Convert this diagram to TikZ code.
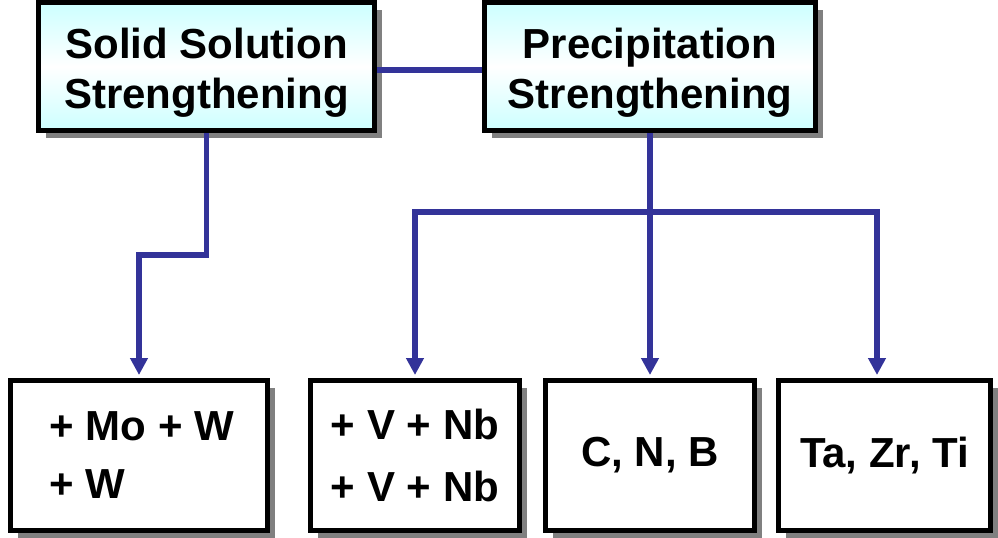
\documentclass[tikz,border=0pt]{standalone}
\usepackage{fontspec}
\setmainfont{Liberation Sans}
\usetikzlibrary{arrows.meta,shadows}
\definecolor{linkblue}{HTML}{333399}
\definecolor{boxcyan}{HTML}{CCFFFF}
\newcommand{\toplift}{\rule{0pt}{21pt}}
\begin{document}
\begin{tikzpicture}[x=0.5pt, y=-0.5pt,
    box/.style={draw, line width=2.5pt, inner sep=0pt,
      drop shadow={shadow xshift=3.5pt, shadow yshift=-3.5pt, fill=black!50, opacity=1}},
    topbox/.style={box, align=center, minimum height=64pt,
      top color=boxcyan, bottom color=boxcyan, middle color=white,
      font=\bfseries\fontsize{21}{25}\selectfont},
    leafbox/.style={box, fill=white, align=left, minimum height=75pt, minimum width=104.5pt,
      font=\bfseries\fontsize{21}{29}\selectfont},
    link/.style={linkblue, line width=2.6pt},
    arrow/.style={link, -{Triangle[length=8.5pt, width=8.5pt]}, shorten >=1.5pt}]
  \useasboundingbox (0, 0) rectangle (998, 537);
  \node[topbox, minimum width=168pt] (ss) at (206.5, 66.5) {\toplift Solid Solution\\Strengthening};
  \node[topbox, minimum width=165.5pt] (ps) at (650, 66.5) {\toplift Precipitation\\Strengthening};
  \node[leafbox, minimum width=128.5pt] (b1) at (139, 455.5) {\hspace{3pt}+ Mo + W\\\hspace{3pt}+ W};
  \node[leafbox] (b2) at (415, 455.5) {+ V + Nb\\[2pt]+ V + Nb};
  \node[leafbox] (b3) at (650, 455.5) {C, N, B};
  \node[leafbox, minimum width=106pt] (b4) at (884.5, 455.5) {Ta, Zr, Ti};
  \coordinate (kink) at (206.5, 255);
  \coordinate (fork) at (650, 212);
  \draw[link] ([yshift=-1.75pt]ss.east) -- ([yshift=-1.75pt]ps.west);
  \draw[arrow] (ss.south) -- (kink) -| (b1.north);
  \draw[arrow] (ps.south) -- (b3.north);
  \draw[arrow] (fork) -| (b2.north);
  \draw[arrow] (fork) -| ([xshift=-3.75pt]b4.north);
\end{tikzpicture}
\end{document}
